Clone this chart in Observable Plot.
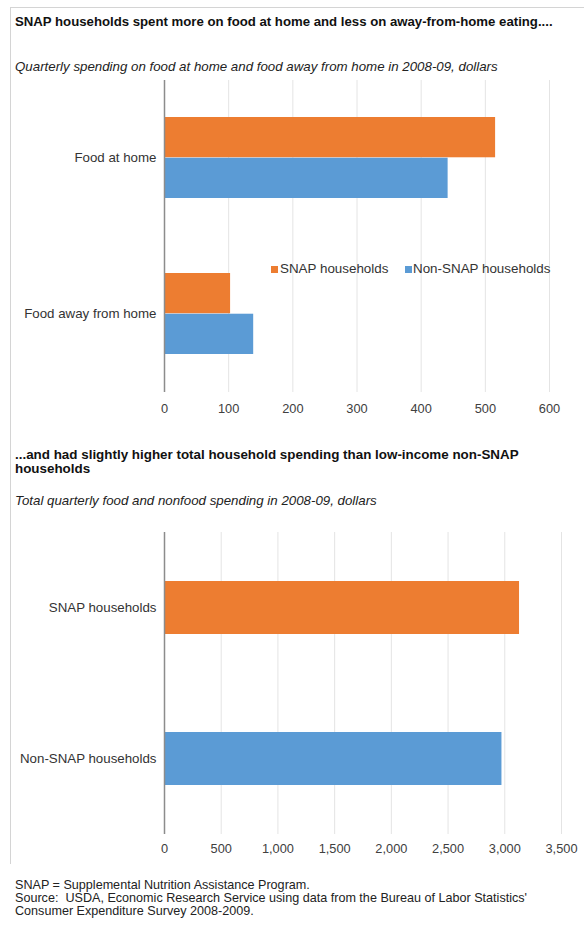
<!DOCTYPE html>
<html><head><meta charset="utf-8">
<script src="https://cdn.jsdelivr.net/npm/d3@7"></script>
<script src="https://cdn.jsdelivr.net/npm/@observablehq/plot@0.6"></script>
<style>
body{margin:0;background:#fff;font-family:"Liberation Sans",Arial,sans-serif;}
#wrap{position:relative;width:584px;height:925px;overflow:hidden;background:#fff;}
.abs{position:absolute;white-space:nowrap;}
.title{font-weight:bold;font-size:13.2px;line-height:14px;color:#111;}
.title2{font-weight:bold;font-size:13.4px;line-height:14px;color:#111;}
.sub{font-style:italic;font-size:13.3px;line-height:14px;color:#222;}
.leg{font-size:13.4px;line-height:14px;color:#333;}
.sw{position:absolute;width:7px;height:7px;}
.foot{font-size:12.6px;line-height:13px;color:#222;}
svg{position:absolute;}
</style></head><body><div id="wrap"></div>
<script>
// ---- data ----
const categories1 = ["Food at home", "Food away from home"];
const series = ["SNAP households", "Non-SNAP households"];
const snapValues1 = [516, 103];
const nonSnapValues1 = [442, 139];
const xTicks1 = [0, 100, 200, 300, 400, 500, 600];

const categories2 = ["SNAP households", "Non-SNAP households"];
const totalValues2 = [3130, 2975];
const xTicks2 = [0, 500, 1000, 1500, 2000, 2500, 3000, 3500];

const colors = ["#ED7D31", "#5B9BD5"];

const title1 = "SNAP households spent more on food at home and less on away-from-home eating....";
const subtitle1 = "Quarterly spending on food at home and food away from home in 2008-09, dollars";
const title2a = "...and had slightly higher total household spending than low-income non-SNAP";
const title2b = "households";
const subtitle2 = "Total quarterly food and nonfood spending in 2008-09, dollars";
const footLines = [
  "SNAP = Supplemental Nutrition Assistance Program.",
  "Source:\u00a0 USDA, Economic Research Service using data from the Bureau of Labor Statistics'",
  "Consumer Expenditure Survey 2008-2009."
];

// ---- layout ----
const wrap = document.getElementById("wrap");
function addText(cls, text, left, centerY, lh) {
  const d = document.createElement("div");
  d.className = "abs " + cls;
  d.textContent = text;
  d.style.left = left + "px";
  d.style.top = (centerY - lh / 2) + "px";
  wrap.appendChild(d);
  return d;
}
// border
const bl = document.createElement("div");
bl.className = "abs";
Object.assign(bl.style, {left: "10px", top: "7px", width: "600px", height: "856px", borderLeft: "1px solid #d4d4d4", borderTop: "1px solid #d4d4d4"});
wrap.appendChild(bl);

addText("title", title1, 15, 21.5, 14);
addText("sub", subtitle1, 15, 66.5, 14);
addText("title2", title2a, 15, 455, 14);
addText("title2", title2b, 15, 469, 14);
addText("sub", subtitle2, 15, 501, 14);
footLines.forEach((t, i) => addText("foot", t, 15, 885 + i * 13, 13));

const font = '"Liberation Sans", Arial, sans-serif';

// ---- chart 1 ----
const pi1 = 0.478, po1 = pi1 / 2;
const frame1 = 312;
const step1 = frame1 / (categories1.length - pi1 + 2 * po1);
const bw1 = step1 * (1 - pi1);
const rows1 = categories1.flatMap((c, i) => [
  {category: c, series: series[0], value: snapValues1[i]},
  {category: c, series: series[1], value: nonSnapValues1[i]}
]);
const plot1 = Plot.plot({
  width: 584, height: 360, marginTop: 10, marginBottom: 38, marginLeft: 164, marginRight: 35,
  style: {fontFamily: font, fontSize: "13px", color: "#333", background: "transparent", overflow: "visible"},
  x: {domain: [0, 600], axis: null, label: null},
  y: {domain: categories1, paddingInner: pi1, paddingOuter: po1, align: 0.5, axis: null, label: null},
  color: {domain: series, range: colors},
  marks: [
    Plot.gridX(xTicks1, {stroke: "#e4e4e4", strokeOpacity: 1, strokeWidth: 1}),
    Plot.barX(rows1.filter(d => d.series === series[0]), {x: "value", y: "category", fill: "series", insetBottom: bw1 / 2}),
    Plot.barX(rows1.filter(d => d.series === series[1]), {x: "value", y: "category", fill: "series", insetTop: bw1 / 2}),
    Plot.ruleX([0], {stroke: "#8c8c8c", strokeWidth: 1.5}),
    Plot.axisX(xTicks1, {tickSize: 0, tickPadding: 11.5, fill: "#404040", fontSize: 12.8}),
    Plot.axisY({tickSize: 0, tickPadding: 8, fill: "#333", fontSize: 13.3})
  ]
});
plot1.style.left = "0px";
plot1.style.top = "70px";
wrap.appendChild(plot1);

// legend (inside chart 1)
const legY = 269;
const legPos = [[271, 280], [405, 413]];
series.forEach((s, i) => {
  const sw = document.createElement("div");
  sw.className = "sw";
  sw.style.background = colors[i];
  sw.style.left = legPos[i][0] + "px";
  sw.style.top = (legY - 3.5) + "px";
  wrap.appendChild(sw);
  addText("leg", s, legPos[i][1], legY, 14);
});

// ---- chart 2 ----
const pi2 = 0.65, po2 = pi2 / 2;
const rows2 = categories2.map((c, i) => ({category: c, value: totalValues2[i]}));
const plot2 = Plot.plot({
  width: 584, height: 350, marginTop: 10, marginBottom: 38, marginLeft: 164, marginRight: 23,
  style: {fontFamily: font, fontSize: "13px", color: "#333", background: "transparent", overflow: "visible"},
  x: {domain: [0, 3500], axis: null, label: null},
  y: {domain: categories2, paddingInner: pi2, paddingOuter: po2, align: 0.5, axis: null, label: null},
  color: {domain: categories2, range: colors},
  marks: [
    Plot.gridX(xTicks2, {stroke: "#e4e4e4", strokeOpacity: 1, strokeWidth: 1}),
    Plot.barX(rows2, {x: "value", y: "category", fill: "category"}),
    Plot.ruleX([0], {stroke: "#8c8c8c", strokeWidth: 1.5}),
    Plot.axisX(xTicks2, {tickSize: 0, tickPadding: 9.5, fill: "#404040", fontSize: 12.8, tickFormat: d3.format(",")}),
    Plot.axisY({tickSize: 0, tickPadding: 8, fill: "#333", fontSize: 13.3})
  ]
});
plot2.style.left = "0px";
plot2.style.top = "522px";
wrap.appendChild(plot2);
</script></body></html>
